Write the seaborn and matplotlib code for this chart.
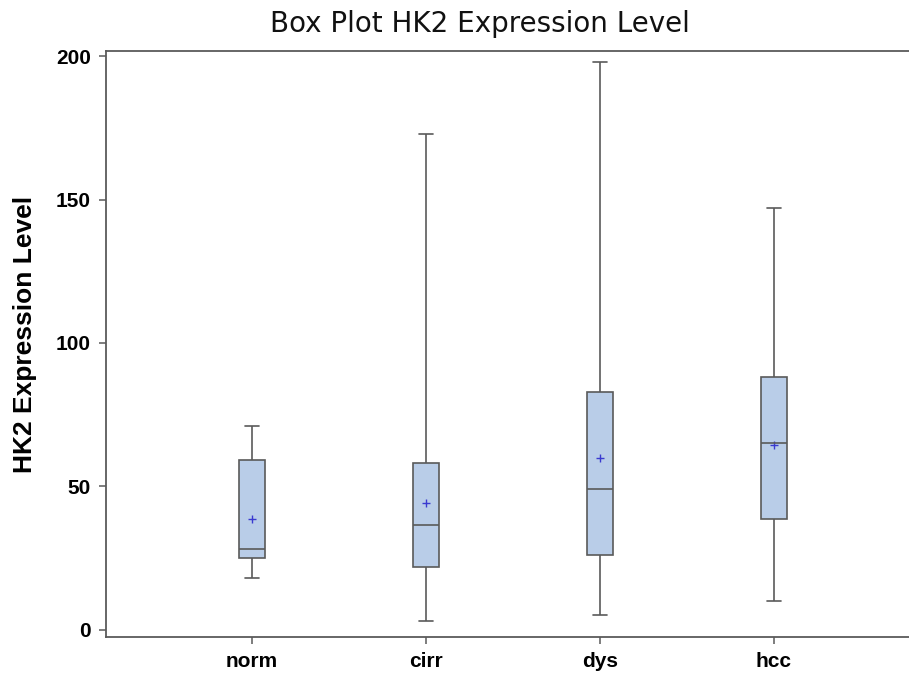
import numpy as np
import pandas as pd
import matplotlib
matplotlib.use("Agg")
import matplotlib.pyplot as plt
import seaborn as sns

categories = ["norm", "cirr", "dys", "hcc"]
whisker_low = [18, 3, 5, 10]
q1 = [25, 22, 26, 38.5]
median = [28, 36.5, 49, 65]
q3 = [59, 58, 83, 88]
whisker_high = [71, 173, 198, 147]
means = [38.5, 44, 60, 64.5]
y_ticks = [0, 50, 100, 150, 200]

# Five-number summaries as long-form table (quartiles fall exactly on these points)
rows = []
for i, c in enumerate(categories):
    for v in (whisker_low[i], q1[i], median[i], q3[i], whisker_high[i]):
        rows.append({"group": c, "value": v})
df = pd.DataFrame(rows)
mean_df = pd.DataFrame({"group": categories, "mean": means})

sns.set_style("ticks")
plt.rcParams["font.family"] = ["Liberation Sans", "DejaVu Sans"]

fig = plt.figure(figsize=(9.09, 6.75), dpi=100)
ax = fig.add_axes([106 / 909, 1 - 637 / 675, 1 - 106 / 909, (637 - 51) / 675])

edge = "#5a5a5a"
sns.boxplot(data=df, x="group", y="value", order=categories, whis=np.inf,
            width=0.15, color="#b9cde8", linecolor=edge, linewidth=1.2,
            saturation=1, ax=ax)
sns.pointplot(data=mean_df, x="group", y="mean", order=categories,
              linestyle="none", marker="+", color="#3a3ad0", markersize=6,
              markeredgewidth=1.0, errorbar=None, ax=ax)

ax.set_xlim(-0.839, 3.776)
ax.set_ylim(-2.6, 201.9)
ax.set_yticks(y_ticks)
ax.set_yticklabels([str(t) for t in y_ticks])

ax.set_xlabel("")
ax.set_ylabel("HK2 Expression Level", fontsize=19, fontweight="bold",
              color="black")
ax.yaxis.set_label_coords(-0.086, 0.517)
ax.set_title("Box Plot HK2 Expression Level", fontsize=20, pad=14, x=0.466,
             family=["DejaVu Sans"], color="#111111")

for s in ["left", "bottom", "top"]:
    ax.spines[s].set_visible(True)
    ax.spines[s].set_color(edge)
    ax.spines[s].set_linewidth(1.3)
ax.spines["right"].set_visible(False)

ax.tick_params(axis="both", length=5, width=1.1, color=edge, pad=6)
for lab in ax.get_xticklabels() + ax.get_yticklabels():
    lab.set_fontweight("bold")
    lab.set_fontsize(15)
    lab.set_color("black")

fig.savefig("out.png", dpi=100)
